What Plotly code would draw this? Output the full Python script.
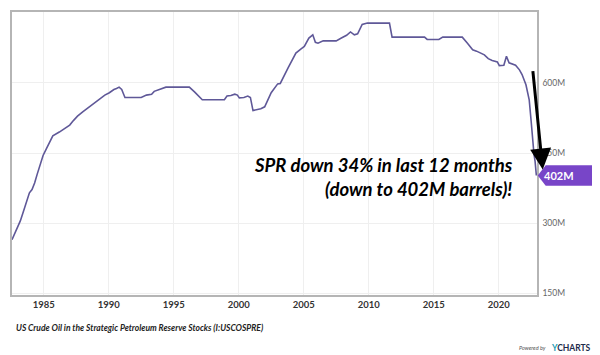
import plotly.graph_objects as go

# Data (decimal year, million barrels)
years = [1982.56, 1982.9, 1983.2, 1983.45, 1983.7, 1983.9, 1984.1, 1984.3, 1984.5, 1984.7,
         1984.95, 1985.2, 1985.45, 1985.7, 1986.2, 1986.6, 1987.0, 1987.3, 1987.6, 1988.0,
         1988.3, 1988.9, 1989.3, 1989.7, 1990.05, 1990.4, 1990.6, 1990.8, 1991.0, 1991.25,
         1992.0, 1992.5, 1992.9, 1993.3, 1993.5, 1994.0, 1994.4, 1995.0, 1996.2, 1996.6,
         1997.0, 1997.2, 1998.0, 1998.9, 1999.1, 1999.4, 1999.7, 1999.9, 2000.05, 2000.4,
         2000.7, 2000.9, 2001.1, 2001.7, 2002.0, 2002.5, 2003.0, 2003.2, 2003.8, 2004.4,
         2004.8, 2005.05, 2005.4, 2005.7, 2005.9, 2006.1, 2006.5, 2007.5, 2007.9, 2008.3,
         2008.6, 2008.9, 2009.15, 2009.5, 2009.9, 2011.6, 2011.8, 2013.0, 2014.3, 2014.5,
         2015.4, 2015.7, 2017.2, 2017.6, 2018.0, 2018.3, 2018.6, 2018.9, 2019.2, 2019.5,
         2019.9, 2020.05, 2020.4, 2020.6, 2020.8, 2021.15, 2021.3, 2021.6, 2021.8, 2022.1,
         2022.35, 2022.5, 2022.62, 2022.72, 2022.8, 2022.9]
stocks = [265, 285, 305, 326, 348, 365, 372, 386, 405, 425,
          445, 459, 472, 487, 495, 503, 510, 520, 529, 538,
          544, 557, 566, 574, 579, 586, 588, 591, 586, 569,
          569, 569, 574, 576, 582, 587, 591, 591, 591, 581,
          569, 564, 564, 564, 572, 573, 576, 574, 568, 569,
          572, 569, 541, 545, 549, 579, 598, 599, 632, 664,
          673, 678, 696, 703, 687, 685, 690, 690, 696, 702,
          709, 703, 705, 725, 728, 728, 698, 698, 698, 693,
          693, 698, 698, 685, 671, 668, 664, 660, 652, 648,
          645, 637, 638, 657, 643, 639, 638, 628, 618, 596,
          564, 518, 475, 447, 433, 402]

x_ticks = [1985, 1990, 1995, 2000, 2005, 2010, 2015, 2020]
x_tick_labels = [str(v) for v in x_ticks]
y_ticks = [150, 300, 450, 600]
y_tick_labels = ["150M", "300M", "450M", "600M"]
last_value = 402
last_label = "402M"

line_color = "#5f5898"
tag_color = "#7845c8"

fig = go.Figure()
fig.add_trace(go.Scatter(x=years, y=stocks, mode="lines",
                         line=dict(color=line_color, width=1.6),
                         hoverinfo="skip", showlegend=False))

fig.update_layout(
    width=600, height=355,
    margin=dict(l=4, r=71, t=4, b=68, autoexpand=False),
    paper_bgcolor="white", plot_bgcolor="white",
    showlegend=False,
    xaxis=dict(range=[1982.56, 2022.95], tickvals=x_ticks, ticktext=x_tick_labels,
               automargin=False,
               showgrid=True, gridcolor="#efefef", gridwidth=1, zeroline=False,
               showline=True, mirror=True, linecolor="#b5b5b5", linewidth=1.5,
               ticks="", ticklabelstandoff=0,
               tickfont=dict(family="Lato", size=9.5, color="#333", weight="bold")),
    yaxis=dict(range=[146.6, 751.7], tickvals=y_ticks, ticktext=y_tick_labels,
               automargin=False,
               side="right", showgrid=True, gridcolor="#efefef", gridwidth=1,
               zeroline=False, showline=True, mirror=True, linecolor="#b5b5b5",
               linewidth=1.5, ticks="", ticklabelstandoff=2,
               tickfont=dict(family="Lato", size=8.5, color="#666")),
)

# Value tag on the right axis
fig.add_shape(type="path", xref="paper", yref="y",
              path=f"M 1.0014 {last_value} L 1.0166 {last_value + 22} L 1.112 {last_value + 22} "
                   f"L 1.112 {last_value - 22} L 1.0166 {last_value - 22} Z",
              fillcolor=tag_color, line=dict(width=0), layer="above")
fig.add_annotation(xref="paper", yref="y", x=1.0737, y=last_value, text=last_label,
                   showarrow=False, font=dict(family="Lato", size=11, color="white", weight="bold"))

# Hand-drawn note and arrow
fig.add_annotation(xref="paper", yref="paper", x=0.9575, y=0.4176,
                   xanchor="right", yanchor="middle", align="right", showarrow=False,
                   text="SPR down 34% in last 12 months<br>(down to 402M barrels)!",
                   font=dict(family="Lato", size=18.5, color="black", weight="bold", style="italic"))
fig.add_annotation(xref="paper", yref="paper", x=1.0109, y=0.4433, ax=-10, ay=-100,
                   text="", showarrow=True, arrowhead=2, arrowsize=1.4, arrowwidth=3,
                   arrowcolor="black", standoff=0)

# Footer texts
fig.add_annotation(xref="paper", yref="paper", x=0.003, y=-0.1154, xanchor="left",
                   yanchor="middle", showarrow=False,
                   text="US Crude Oil in the Strategic Petroleum Reserve Stocks (I:USCOSPRE)",
                   font=dict(family="Liberation Sans Narrow, Lato", size=8.5, color="#222",
                             weight="bold", style="italic"))
fig.add_annotation(xref="paper", yref="paper", x=1.106, y=-0.1885, xanchor="right",
                   yanchor="middle", showarrow=False,
                   text="<span style='color:#1a9ab3'>Y</span>CHARTS",
                   font=dict(family="Lato", size=8.5, color="#1e2b4a", weight="bold"))
fig.add_annotation(xref="paper", yref="paper", x=1.02, y=-0.1885, xanchor="right",
                   yanchor="middle", showarrow=False, text="Powered by",
                   font=dict(family="Lato", size=5.5, color="#555", style="italic"))

fig.write_html("out.html")
